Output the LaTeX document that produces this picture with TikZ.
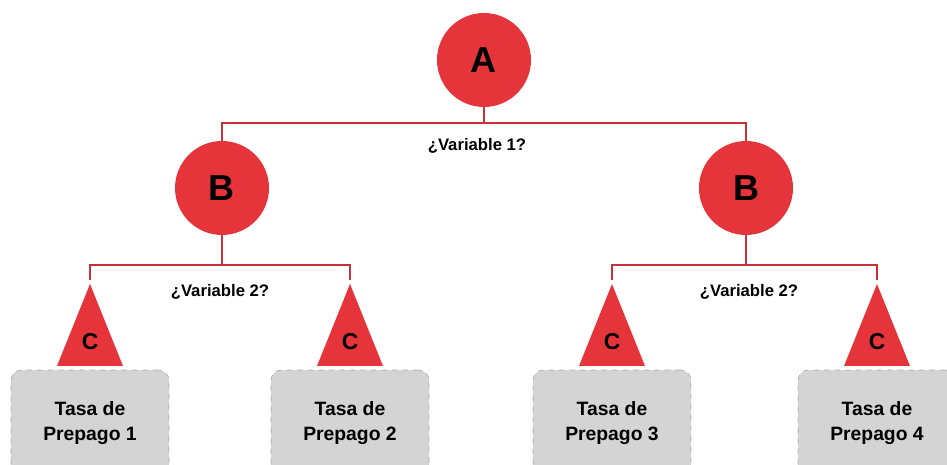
\documentclass[tikz,border=0pt]{standalone}
\usepackage{fontspec}
\setmainfont{Liberation Sans}
\definecolor{nodered}{HTML}{E5353B}
\definecolor{linered}{HTML}{C8323A}
\definecolor{boxgray}{HTML}{D4D4D4}
\tikzset{
	chance/.style={circle,fill=nodered,minimum size=1.88cm,inner sep=0pt,font=\bfseries\fontsize{20.5}{24}\selectfont},
	branch/.style={draw=linered,line width=1.1pt},
	question/.style={font=\bfseries\fontsize{9.5}{11}\selectfont},
	label c/.style={font=\bfseries\fontsize{13}{14}\selectfont},
	leaf/.style={draw=gray!65,dashed,fill=boxgray,rounded corners=6pt,minimum width=3.16cm,minimum height=2.12cm,align=center,font=\bfseries\fontsize{11}{14.5}\selectfont}
}
\begin{document}
\begin{tikzpicture}[x=0.02cm,y=-0.02cm]
			\useasboundingbox (0,0) rectangle (947,465);
			\clip (0,0) rectangle (947,465);
			\node[chance] (A) at (484,60) {A};
			\node[chance] (B1) at (222,188) {B};
			\node[chance] (B2) at (746,188) {B};
			\coordinate (h1) at (0,123);
			\coordinate (h2) at (0,265);
			\foreach \x/\i in {90/1,350/2,612/3,877/4}{
				\coordinate (t\i) at (\x,280);
				\fill[nodered] (\x,284) -- (\x-33,366) -- (\x+33,366) -- cycle;
				\node[label c] (c\i) at (\x,342) {C};
				\node[leaf] (r\i) at (\x,423) {Tasa de\\Prepago \i};
			}
			\draw[branch] (A.south) -- (A.south |- h1);
			\draw[branch] (B1.north) |- (B2.north |- h1) -- (B2.north);
			\draw[branch] (B1.south) -- (B1.south |- h2);
			\draw[branch] (B2.south) -- (B2.south |- h2);
			\draw[branch] (t1) |- (t2 |- h2) -- (t2);
			\draw[branch] (t3) |- (t4 |- h2) -- (t4);
			\node[question] (q1) at (477,146) {¿Variable 1?};
			\node[question] (q2) at (220,292) {¿Variable 2?};
			\node[question] (q3) at (749,292) {¿Variable 2?};
\end{tikzpicture}
\end{document}
